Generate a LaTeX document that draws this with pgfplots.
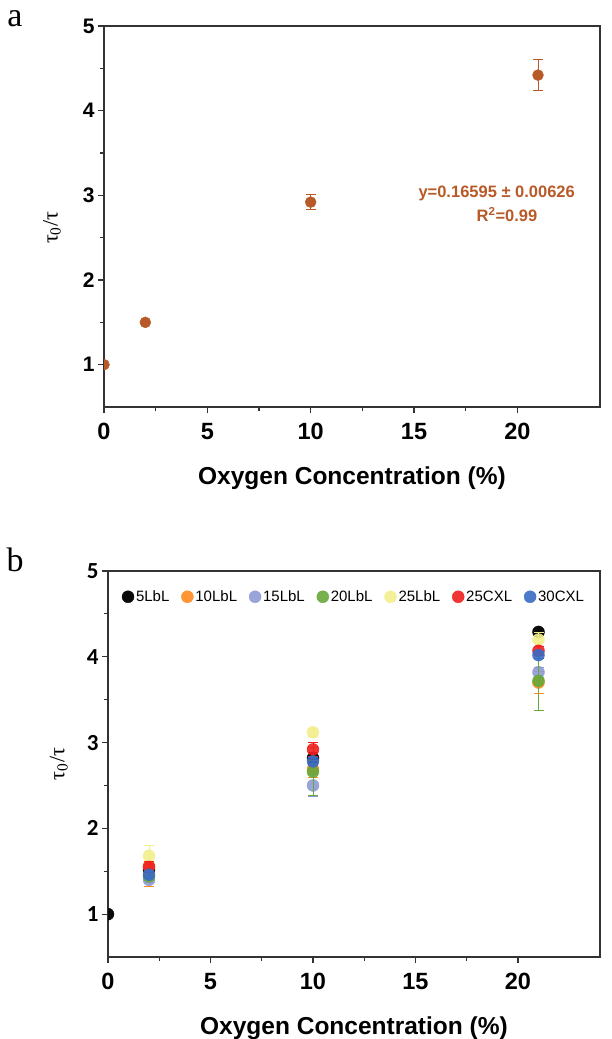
\documentclass[border=0pt]{standalone}
\usepackage{pgfplots}
\pgfplotsset{compat=1.18}
\usepackage{fontspec}
\setmainfont{Liberation Sans}
\newfontfamily\serifff{Liberation Serif}
\newfontfamily\carl{Carlito}
\definecolor{brn}{HTML}{B85A28}
\definecolor{axc}{HTML}{333333}
\definecolor{cblack}{HTML}{0A0A0A}
\definecolor{corange}{HTML}{FF8A1E}
\definecolor{clav}{HTML}{8E9AD6}
\definecolor{cgreen}{HTML}{68A83A}
\definecolor{cyellow}{HTML}{F2EE8C}
\definecolor{cred}{HTML}{F01E1E}
\definecolor{cblue}{HTML}{3A6CC2}
\begin{document}
\begin{tikzpicture}
\useasboundingbox (0pt,0pt) rectangle (612pt,-1039pt);
\pgfplotsset{
  base/.style={
    scale only axis, width=496pt, height=381pt,
    xmin=0, xmax=24, ymin=0.5, ymax=5,
    xtick={0,5,10,15,20}, ytick={1,2,3,4,5},
    minor x tick num=1, minor y tick num=1,
    xtick pos=bottom, ytick pos=left, tick align=outside,
    major tick length=6pt, minor tick length=4pt,
    axis line style={line width=1.3pt, axc},
    every tick/.style={line width=1.1pt, axc},
    clip marker paths=true,
    /pgf/number format/assume math mode=true,
    xticklabel style={font=\fontsize{23.5}{23.5}\selectfont\bfseries, yshift=-7pt},
    xlabel={Oxygen Concentration (\%)},
    xlabel style={font=\fontsize{24.5}{24.5}\selectfont\bfseries, yshift=-20pt},
    ylabel={\serifff τ\textsubscript{0}/τ},
    ylabel style={font=\fontsize{22}{22}\selectfont, at={(axis description cs:-0.105,0.47)}, anchor=center},
  },
  ebar/.style={error bars/.cd, y dir=both, y explicit,
    error bar style={line width=0.8pt, #1},
    error mark options={rotate=90, mark size=5pt, line width=0.8pt, #1}},
}
\node[font=\serifff\fontsize{34}{34}\selectfont, inner sep=1pt] at (15pt,-19pt) {a};
\node[font=\serifff\fontsize{34}{34}\selectfont, inner sep=1pt] at (15pt,-560pt) {b};

% Panel a
\begin{axis}[base, at={(104pt,-26pt)}, anchor=north west,
  yticklabel style={font=\fontsize{21}{21}\selectfont\bfseries}]
\addplot[only marks, mark=*, mark size=5.5pt, brn, mark options={fill=brn, draw=brn}, ebar=brn]
  coordinates {(0,1) +- (0,0) (2,1.5) +- (0,0.01) (10,2.92) +- (0,0.09) (21,4.42) +- (0,0.18)};
\node[brn, font=\fontsize{16.5}{16.5}\selectfont\bfseries] at (axis cs:19.0,3.02) {y=0.16595 ± 0.00626};
\node[brn, font=\fontsize{16.5}{16.5}\selectfont\bfseries] at (axis cs:19.5,2.77) {R\textsuperscript{2}=0.99};
\end{axis}

% Panel b
\begin{axis}[base, at={(108pt,-571pt)}, anchor=north west, width=492pt, height=386pt,
  yticklabel style={font=\carl\fontsize{23}{23}\selectfont\bfseries},
  ylabel style={at={(axis description cs:-0.1,0.5)}},
  legend columns=7,
  legend style={draw=none, fill=none, at={(0.5,0.955)}, anchor=north,
    font=\fontsize{15}{15}\selectfont, inner sep=0pt,
    /tikz/every even column/.append style={column sep=10pt}},
  legend image code/.code={\draw[#1] plot coordinates {(0.14cm,0cm)};},
  every axis plot/.append style={only marks, mark=*, mark size=6pt},
  ]
\addplot[cblack, mark options={fill=cblack, draw=cblack}, ebar=cblack]
  coordinates {(0,1) +- (0,0) (2,1.52) +- (0,0.04) (10,2.82) +- (0,0.06) (21,4.29) +- (0,0.03)};
\addlegendentry{5LbL}
\addplot[corange, mark options={fill=corange, draw=corange, opacity=0.9}, ebar=corange]
  coordinates {(2,1.56) +- (0,0.24) (10,2.69) +- (0,0.1) (21,3.70) +- (0,0.13)};
\addlegendentry{10LbL}
\addplot[clav, mark options={fill=clav, draw=clav, opacity=0.9}, ebar=clav]
  coordinates {(2,1.40) +- (0,0.03) (10,2.50) +- (0,0.13) (21,3.82) +- (0,0.06)};
\addlegendentry{15LbL}
\addplot[cgreen, mark options={fill=cgreen, draw=cgreen, opacity=0.9}, ebar=cgreen]
  coordinates {(2,1.44) +- (0,0.05) (10,2.66) +- (0,0.28) (21,3.72) +- (0,0.34)};
\addlegendentry{20LbL}
\addplot[cyellow, mark options={fill=cyellow, draw=cyellow, opacity=0.9}, ebar=cyellow]
  coordinates {(2,1.68) +- (0,0.12) (10,3.12) +- (0,0.05) (21,4.20) +- (0,0.08)};
\addlegendentry{25LbL}
\addplot[cred, mark options={fill=cred, draw=cred, opacity=0.9}, ebar=cred]
  coordinates {(2,1.55) +- (0,0.06) (10,2.92) +- (0,0.08) (21,4.07) +- (0,0.05)};
\addlegendentry{25CXL}
\addplot[cblue, mark options={fill=cblue, draw=cblue, opacity=0.9}, ebar=cblue]
  coordinates {(2,1.46) +- (0,0.04) (10,2.78) +- (0,0.05) (21,4.02) +- (0,0.04)};
\addlegendentry{30CXL}
\end{axis}
\end{tikzpicture}
\end{document}
